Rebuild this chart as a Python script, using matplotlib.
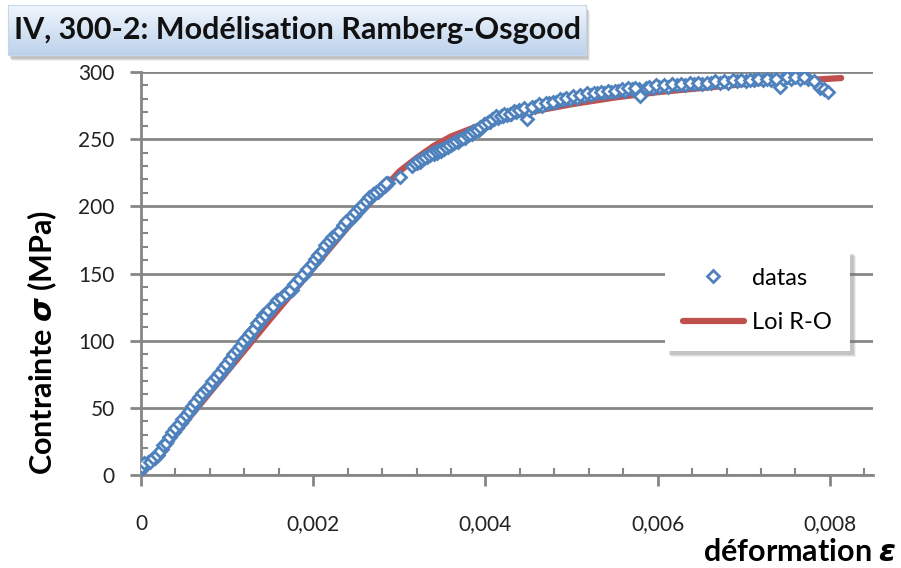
import numpy as np
import matplotlib
matplotlib.use("Agg")
import matplotlib.pyplot as plt
from matplotlib.ticker import MultipleLocator, FuncFormatter
from matplotlib.patches import Rectangle
from matplotlib.colors import LinearSegmentedColormap

plt.rcParams['font.family'] = ['Lato', 'DejaVu Sans']
plt.rcParams['mathtext.fontset'] = 'custom'
plt.rcParams['mathtext.bfit'] = 'DejaVu Sans:italic:bold'

# measured points (strain, stress MPa), first pass
eps_data = [0.00000, 0.00002, 0.00005, 0.00008, 0.00012, 0.00016, 0.00020, 0.00024,
            0.00027, 0.00030, 0.00034, 0.00038, 0.00042, 0.00046, 0.00050, 0.00054,
            0.00057, 0.00061, 0.00065, 0.00069, 0.00073, 0.00077, 0.00081, 0.00085,
            0.00089, 0.00093, 0.00097, 0.00101, 0.00105, 0.00109, 0.00113, 0.00117,
            0.00121, 0.00125, 0.00129, 0.00133, 0.00137, 0.00142, 0.00146, 0.00150,
            0.00156, 0.00160, 0.00165, 0.00170, 0.00175, 0.00180, 0.00185, 0.00190,
            0.00195, 0.00200, 0.00204, 0.00208, 0.00212, 0.00216, 0.00220, 0.00224,
            0.00228, 0.00232, 0.00236, 0.00240, 0.00243, 0.00247, 0.00251, 0.00255,
            0.00259, 0.00263, 0.00267, 0.00271, 0.00275, 0.00279, 0.00283, 0.00287,
            0.00301, 0.00315, 0.00320, 0.00324, 0.00328, 0.00332, 0.00336, 0.00340,
            0.00344, 0.00348, 0.00352, 0.00356, 0.00360, 0.00364, 0.00368, 0.00372,
            0.00376, 0.00380, 0.00384, 0.00388, 0.00392, 0.00396, 0.00400, 0.00405,
            0.00410, 0.00415, 0.00420, 0.00425, 0.00430, 0.00436, 0.00442, 0.00448,
            0.00450, 0.00458, 0.00466, 0.00474, 0.00482, 0.00490, 0.00498, 0.00506,
            0.00514, 0.00522, 0.00530, 0.00538, 0.00546, 0.00554, 0.00562, 0.00570,
            0.00578, 0.00580, 0.00586, 0.00594, 0.00602, 0.00612, 0.00622, 0.00632,
            0.00642, 0.00652, 0.00662, 0.00672, 0.00682, 0.00692, 0.00702, 0.00712,
            0.00722, 0.00732, 0.00742, 0.00745, 0.00755, 0.00765, 0.00775, 0.00782,
            0.00788, 0.00793, 0.00798]
sig_data = [4, 6, 8, 10, 11, 13, 15, 19,
            22, 25, 28, 32, 35, 39, 42, 46,
            48, 51, 55, 58, 61, 64, 67, 70,
            73, 77, 80, 83, 87, 90, 93, 97,
            100, 103, 107, 110, 113, 119, 120, 123,
            128, 130, 133, 136, 138, 143, 147, 150,
            154, 158, 161, 165, 168, 171, 174, 177,
            180, 183, 186, 190, 190, 193, 196, 199,
            202, 205, 207, 209, 211, 213, 215, 217,
            222, 230, 232, 233, 235, 237, 238, 239,
            240, 241, 243, 244, 246, 247, 248, 250,
            251, 253, 254, 256, 257, 259, 261, 263,
            265, 266, 267, 268, 269, 270, 271, 265,
            272, 274, 275, 277, 278, 279, 280, 281,
            282, 283, 284, 284, 285, 286, 286, 287,
            287, 282, 288, 288, 289, 289, 290, 290,
            291, 291, 292, 292, 292, 293, 293, 294,
            294, 294, 289, 295, 295, 295, 295, 293,
            288, 287, 285]

# measured points, in-between readings of the band
eps_data2 = [0.00001, 0.00004, 0.00010, 0.00014, 0.00018, 0.00022, 0.000255, 0.000285,
             0.00032, 0.00036, 0.00040, 0.00044, 0.00048, 0.00052, 0.00056, 0.00059,
             0.00063, 0.00067, 0.00071, 0.00075, 0.00079, 0.00083, 0.00087, 0.00091,
             0.00095, 0.00099, 0.00103, 0.00107, 0.00111, 0.00115, 0.00119, 0.00123,
             0.00127, 0.00131, 0.00135, 0.00139, 0.00144, 0.00148, 0.00153, 0.00158,
             0.00163, 0.00168, 0.00173, 0.00178, 0.00183, 0.00188, 0.00193, 0.00198,
             0.00202, 0.00206, 0.00210, 0.00214, 0.00218, 0.00222, 0.00226, 0.00230,
             0.00234, 0.00238, 0.00245, 0.00249, 0.00253, 0.00257, 0.00261, 0.00265,
             0.00269, 0.00273, 0.00277, 0.00281, 0.00285, 0.00318, 0.00322, 0.00326,
             0.00330, 0.00334, 0.00338, 0.00342, 0.00346, 0.00350, 0.00354, 0.00358,
             0.00362, 0.00366, 0.00370, 0.00374, 0.00378, 0.00382, 0.00386, 0.00390,
             0.00394, 0.00398, 0.00403, 0.00408, 0.00412, 0.00418, 0.00422, 0.00428,
             0.00433, 0.00439, 0.00445, 0.00454, 0.00462, 0.00470, 0.00478, 0.00486,
             0.00494, 0.00502, 0.00510, 0.00518, 0.00526, 0.00534, 0.00542, 0.00550,
             0.00558, 0.00566, 0.00574, 0.00590, 0.00598, 0.00607, 0.00617, 0.00627,
             0.00637, 0.00647, 0.00657, 0.00667, 0.00677, 0.00687, 0.00697, 0.00707,
             0.00717, 0.00727, 0.00737, 0.00750, 0.00760, 0.00770]
sig_data2 = [6, 9, 10, 13, 15, 18, 22, 24,
             28, 32, 35, 38, 42, 45, 48, 51,
             54, 58, 61, 64, 66, 70, 73, 76,
             80, 83, 86, 90, 93, 96, 100, 103,
             106, 109, 113, 116, 119, 123, 126, 130,
             132, 135, 138, 142, 146, 150, 153, 157,
             161, 164, 167, 171, 174, 177, 179, 182,
             186, 189, 193, 196, 199, 201, 204, 207,
             209, 211, 213, 215, 217, 232, 234, 235,
             237, 238, 240, 241, 242, 243, 244, 246,
             247, 249, 250, 251, 253, 254, 256, 257,
             259, 261, 263, 265, 267, 267, 269, 269,
             271, 272, 273, 274, 276, 277, 278, 280,
             281, 282, 283, 284, 284, 285, 286, 286,
             287, 288, 288, 289, 290, 290, 291, 291,
             292, 292, 292, 293, 293, 294, 294, 294,
             295, 295, 295, 296, 296, 296]

# Ramberg-Osgood fit
eps_ro = [0.0, 0.0005, 0.001, 0.0015, 0.002, 0.0025, 0.0028, 0.003, 0.0032, 0.0034,
          0.0036, 0.0038, 0.004, 0.0045, 0.005, 0.0055, 0.006, 0.0065, 0.007, 0.0075,
          0.008, 0.00813]
sig_ro = [0, 38, 77, 116, 154, 192, 212, 226, 236, 245,
          252, 257, 262, 270, 276, 281, 285, 288, 291, 293,
          295, 295.5]

blue = '#4F81BD'
red = '#C0504D'
grid_c = '#868686'

fig = plt.figure(figsize=(9.01, 5.68), dpi=100)
ax = fig.add_axes([141/901, 1-475/568, (873-141)/901, (475-72)/568])

ax.plot(eps_ro, sig_ro, color=red, lw=4.5, solid_capstyle='round', label='Loi R-O', zorder=3)
ax.plot(eps_data + eps_data2, sig_data + sig_data2, ls='none', marker='D', ms=6.5,
        mfc='white', mec=blue, mew=2.0, label='datas', zorder=4)

ax.set_xlim(0, 0.0085)
ax.set_ylim(0, 300)
ax.xaxis.set_major_locator(MultipleLocator(0.002))
ax.xaxis.set_minor_locator(MultipleLocator(0.0004))
ax.yaxis.set_major_locator(MultipleLocator(50))
ax.yaxis.set_minor_locator(MultipleLocator(10))
ax.xaxis.set_major_formatter(FuncFormatter(lambda v, p: '0' if v == 0 else ('%.3f' % v).replace('.', ',')))
ax.yaxis.set_major_formatter(FuncFormatter(lambda v, p: '%d' % v))

ax.grid(axis='y', which='major', color=grid_c, lw=2)
ax.set_axisbelow(True)
for s in ['top', 'right']:
    ax.spines[s].set_visible(False)
for s in ['left', 'bottom']:
    ax.spines[s].set_color(grid_c)
    ax.spines[s].set_linewidth(2)
ax.tick_params(which='major', direction='out', length=8, width=2, color=grid_c,
               labelsize=15, labelcolor='#222222')
ax.tick_params(which='minor', direction='in', length=5, width=1.5, color=grid_c)
ax.tick_params(axis='x', which='major', pad=20)
ax.tick_params(axis='y', which='major', pad=11)

fig.text(42/901, 1-342/568, r'Contrainte $\mathbfit{\sigma}$ (MPa)', rotation=90,
         ha='center', va='center', fontsize=22, fontweight='bold')
fig.text(897/901, 1-552/568, r'déformation $\mathbfit{\varepsilon}$', ha='right',
         va='center', fontsize=22, fontweight='bold')

# title box with gradient and soft shadow
for k, a in enumerate([0.12, 0.18, 0.25]):
    fig.patches.append(Rectangle(((12 - k)/901, 1-(61 - k)/568), 578/901, 50/568,
                                 transform=fig.transFigure, facecolor='#808080',
                                 edgecolor='none', alpha=a, zorder=-5))
tax = fig.add_axes([8/901, 1-55/568, 578/901, 50/568], zorder=2)
grad = np.linspace(0, 1, 100).reshape(-1, 1)
tax.imshow(grad, aspect='auto', cmap=LinearSegmentedColormap.from_list(
    'g', ['#f1f6fc', '#bcd2ec']), extent=[0, 1, 0, 1], origin='upper')
tax.set_xticks([])
tax.set_yticks([])
for s in tax.spines.values():
    s.set_color('#c7d6ea')
tax.text(0.5, 0.5, 'IV, 300-2: Modélisation Ramberg-Osgood', ha='center', va='center',
         fontsize=22, fontweight='bold', color='#111111', transform=tax.transAxes)

h, l = ax.get_legend_handles_labels()
leg = ax.legend(h[::-1], l[::-1], loc='upper left', bbox_to_anchor=(665/901, 1-250/568),
                bbox_transform=fig.transFigure, borderaxespad=0, fontsize=17,
                frameon=True, fancybox=False, framealpha=1, facecolor='white',
                edgecolor='white', handlelength=2.6, borderpad=0.75, labelspacing=1.0,
                handletextpad=0.35)
leg.get_frame().set_linewidth(0)
leg.set_zorder(6)

# soft drop shadow behind the legend box
fig.canvas.draw()
bb = leg.get_frame().get_window_extent().transformed(fig.transFigure.inverted())
for k, a in enumerate([0.10, 0.15, 0.22]):
    ax.add_patch(Rectangle((bb.x0 + (6 - k)/901, bb.y0 - (6 - k)/568), bb.width, bb.height,
                           transform=fig.transFigure, facecolor='#707070',
                           edgecolor='none', alpha=a, zorder=5.5, clip_on=False))

fig.savefig('out.png', dpi=100)
